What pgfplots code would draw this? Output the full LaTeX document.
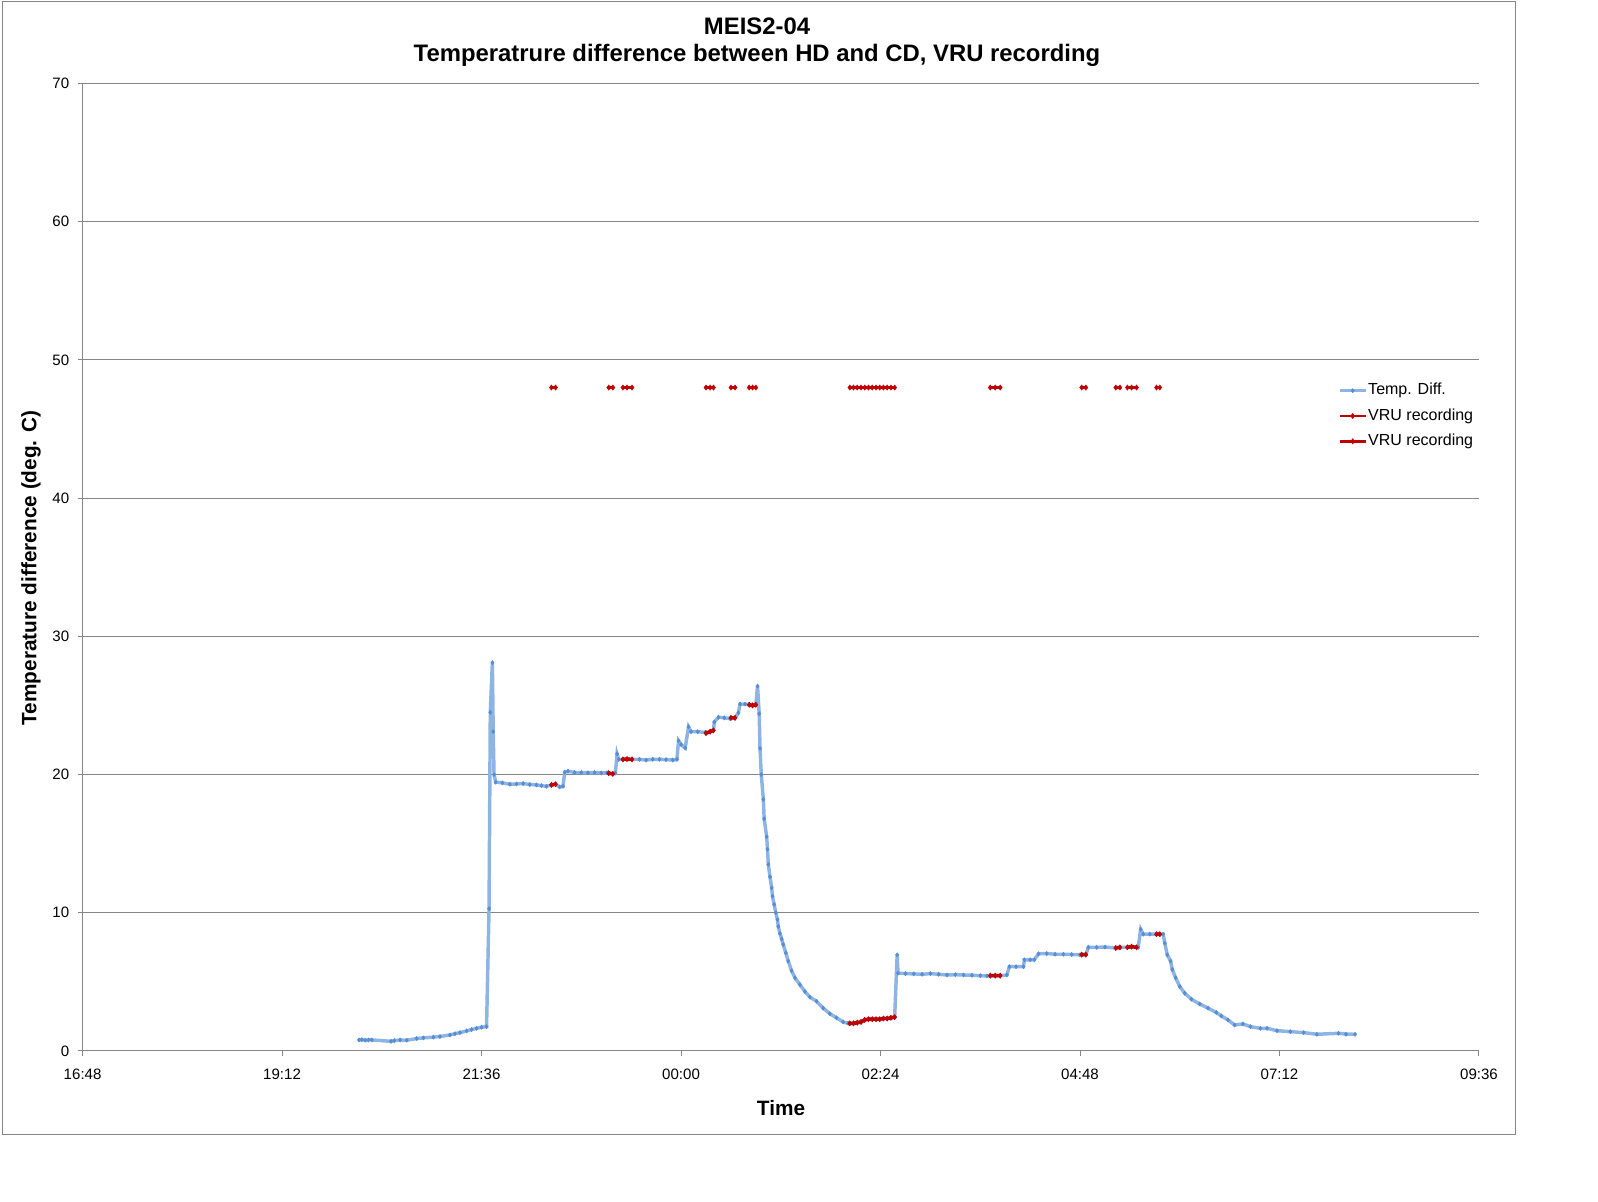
\documentclass[border=0pt]{standalone}
\usepackage{pgfplots}
\pgfplotsset{compat=1.18}
\usepackage{fontspec}
\setmainfont{Liberation Sans}
\definecolor{blueline}{RGB}{142,180,227}
\definecolor{bluemark}{RGB}{85,142,213}
\definecolor{redc}{RGB}{192,0,0}
\definecolor{gridc}{RGB}{134,134,134}
\begin{document}
\begin{tikzpicture}
\path[use as bounding box] (0,0) rectangle (1198.5pt,901.5pt);
\draw[gridc, line width=0.75pt] (1.5pt,50.25pt) rectangle (1136.25pt,900pt);
\begin{axis}[
  at={(61.95pt,113.25pt)}, anchor=south west,
  scale only axis, width=1047.3pt, height=725.65pt,
  xmin=16.8, xmax=33.6, ymin=0, ymax=70,
  xtick={16.8,19.2,21.6,24,26.4,28.8,31.2,33.6},
  xticklabels={16:48,19:12,21:36,00:00,02:24,04:48,07:12,09:36},
  ytick={0,10,20,30,40,50,60,70},
  axis x line*=bottom, axis y line*=left,
  axis line style={draw=gridc, line width=0.75pt},
  tick style={draw=gridc, line width=0.75pt},
  tick align=outside, major tick length=3.75pt,
  ymajorgrids, grid style={draw=gridc, line width=0.75pt},
  /pgf/number format/assume math mode=true,
  ticklabel style={font=\fontsize{11.3}{13}\selectfont},
  xticklabel style={yshift=-6.5pt},
  yticklabel style={xshift=-2.8pt},
  unbounded coords=jump,
  clip=false,
  legend style={at={(0.8992,0.6563)}, anchor=west, draw=none, fill=none,
    inner sep=0pt, row sep=6pt,
    font=\fontsize{12}{14}\selectfont,
    nodes={inner sep=1pt, text height=8.5pt, text depth=2.5pt}},
  legend cell align=left,
  legend image code/.code={\draw[mark repeat=2,mark phase=2,#1,line width=1.8pt] plot coordinates {(0pt,0pt) (9.75pt,0pt) (19.5pt,0pt)};},
]
\addplot[color=blueline, line width=2.6pt, mark=diamond*, mark size=1.6pt,
  mark options={draw=bluemark, fill=bluemark, line width=0.3pt}] coordinates {
(20.125,0.8) (20.16,0.82) (20.20,0.78) (20.24,0.8) (20.28,0.8)
(20.51,0.7) (20.55,0.75) (20.62,0.8) (20.70,0.78) (20.82,0.9) (20.90,0.95)
(21.02,1.0) (21.10,1.05) (21.22,1.16) (21.28,1.25) (21.34,1.33) (21.42,1.45)
(21.48,1.55) (21.54,1.64) (21.60,1.72) (21.66,1.76)
(21.69,10.3) (21.705,24.5) (21.73,28.1) (21.74,23.1) (21.75,20.0) (21.77,19.45)
(21.85,19.4) (21.94,19.3) (22.02,19.32) (22.10,19.35) (22.18,19.28) (22.26,19.25)
(22.32,19.2) (22.38,19.15) (22.44,19.25) (22.49,19.3) (22.54,19.1) (22.58,19.15)
(22.60,20.17) (22.64,20.24) (22.72,20.15) (22.80,20.15) (22.88,20.13) (22.96,20.15)
(23.04,20.12) (23.11,20.13) (23.13,20.1) (23.18,20.05) (23.21,20.1)
(23.23,21.5) (23.25,21.1) (23.30,21.1) (23.35,21.12) (23.41,21.1) (23.50,21.1)
(23.58,21.05) (23.66,21.1) (23.74,21.1) (23.82,21.08) (23.90,21.05) (23.95,21.1)
(23.97,22.44) (24.00,22.17) (24.05,21.93) (24.09,23.45) (24.12,23.1) (24.20,23.1)
(24.29,23.05) (24.30,23.0) (24.35,23.1) (24.39,23.2) (24.40,23.8) (24.45,24.15)
(24.52,24.1) (24.59,24.05) (24.60,24.1) (24.65,24.1) (24.69,24.47) (24.71,25.1)
(24.77,25.1) (24.82,25.05) (24.86,25.0) (24.90,25.05)
(24.92,26.4) (24.94,24.4) (24.95,21.9) (24.965,20.0) (24.99,18.2) (25.00,16.8)
(25.03,15.5) (25.04,14.6) (25.05,13.5) (25.07,12.6) (25.09,11.8) (25.10,11.2)
(25.12,10.6) (25.14,10.0) (25.16,9.5) (25.17,9.0) (25.19,8.5) (25.21,8.1)
(25.23,7.7) (25.26,7.1) (25.29,6.5) (25.33,5.8) (25.37,5.3) (25.43,4.8)
(25.49,4.3) (25.55,3.9) (25.63,3.6) (25.71,3.1) (25.79,2.7) (25.87,2.4)
(25.95,2.1) (26.01,2.0)
(26.03,2.0) (26.075,2.0) (26.12,2.05) (26.165,2.1) (26.21,2.25) (26.255,2.3)
(26.30,2.3) (26.345,2.3) (26.39,2.3) (26.435,2.35) (26.48,2.35) (26.525,2.4) (26.57,2.45)
(26.60,6.96) (26.61,5.63) (26.70,5.6) (26.80,5.58) (26.90,5.55) (27.00,5.6)
(27.10,5.55) (27.20,5.5) (27.30,5.52) (27.40,5.5) (27.50,5.48) (27.60,5.45)
(27.68,5.43) (27.72,5.45) (27.78,5.45) (27.84,5.45) (27.92,5.5)
(27.95,6.1) (28.03,6.1) (28.12,6.1) (28.13,6.6) (28.20,6.6) (28.25,6.6)
(28.30,7.03) (28.40,7.05) (28.50,7.0) (28.60,7.0) (28.70,6.98) (28.80,6.96)
(28.82,6.97) (28.87,6.97) (28.90,7.5) (29.00,7.5) (29.10,7.52) (29.23,7.45)
(29.28,7.5) (29.37,7.5) (29.42,7.55) (29.48,7.5) (29.50,7.5)
(29.53,8.8) (29.56,8.45) (29.64,8.45) (29.72,8.45) (29.76,8.45) (29.80,8.45)
(29.82,7.8) (29.85,6.96) (29.89,6.5) (29.91,5.9) (29.95,5.3) (30.00,4.66)
(30.06,4.18) (30.14,3.75) (30.24,3.4) (30.34,3.1) (30.44,2.78) (30.50,2.54)
(30.58,2.25) (30.66,1.88) (30.76,1.96) (30.85,1.76) (30.97,1.64) (31.05,1.64)
(31.17,1.47) (31.33,1.4) (31.49,1.33) (31.65,1.21) (31.91,1.28) (32.00,1.22) (32.11,1.21)
};
\addlegendentry{Temp. Diff.}
\addplot[color=redc, line width=2.6pt, mark=diamond*, mark size=2pt,
  mark options={draw=redc, fill=redc, line width=0.3pt}] coordinates {
(22.44,19.25) (22.49,19.3) (22.47,nan)
(23.13,20.1) (23.18,20.05) (23.2,nan)
(23.30,21.1) (23.35,21.12) (23.41,21.1) (23.45,nan)
(24.30,23.0) (24.35,23.1) (24.39,23.2) (24.42,nan)
(24.60,24.1) (24.65,24.1) (24.7,nan)
(24.82,25.05) (24.86,25.0) (24.90,25.05) (24.91,nan)
(26.03,2.0) (26.075,2.0) (26.12,2.05) (26.165,2.1) (26.21,2.25) (26.255,2.3)
(26.30,2.3) (26.345,2.3) (26.39,2.3) (26.435,2.35) (26.48,2.35) (26.525,2.4) (26.57,2.45) (26.59,nan)
(27.72,5.45) (27.78,5.45) (27.84,5.45) (27.9,nan)
(28.82,6.97) (28.87,6.97) (28.88,nan)
(29.23,7.45) (29.28,7.5) (29.3,nan)
(29.37,7.5) (29.42,7.55) (29.48,7.5) (29.5,nan)
(29.72,8.45) (29.76,8.45)
};
\addlegendentry{VRU recording}
\addplot[color=redc, line width=2.2pt, mark=diamond*, mark size=2pt,
  mark options={draw=redc, fill=redc, line width=0.3pt}] coordinates {
(22.44,48) (22.49,48) (22.47,nan)
(23.13,48) (23.18,48) (23.2,nan)
(23.30,48) (23.35,48) (23.41,48) (23.45,nan)
(24.30,48) (24.35,48) (24.39,48) (24.42,nan)
(24.60,48) (24.65,48) (24.7,nan)
(24.82,48) (24.86,48) (24.90,48) (24.91,nan)
(26.03,48) (26.075,48) (26.12,48) (26.165,48) (26.21,48) (26.255,48)
(26.30,48) (26.345,48) (26.39,48) (26.435,48) (26.48,48) (26.525,48) (26.57,48) (26.59,nan)
(27.72,48) (27.78,48) (27.84,48) (27.9,nan)
(28.82,48) (28.87,48) (28.88,nan)
(29.23,48) (29.28,48) (29.3,nan)
(29.37,48) (29.42,48) (29.48,48) (29.5,nan)
(29.72,48) (29.76,48)
};
\addlegendentry{VRU recording}
\end{axis}
\node[font=\fontsize{17.9}{21}\selectfont\bfseries] at (567.75pt,881.6pt) {MEIS2-04};
\node[font=\fontsize{17.9}{21}\selectfont\bfseries] at (567.75pt,860.2pt) {Temperatrure difference between HD and CD, VRU recording};
\node[font=\fontsize{15.6}{18}\selectfont\bfseries, rotate=90] at (23.25pt,475.5pt) {Temperature difference (deg. C)};
\node[font=\fontsize{15.6}{18}\selectfont\bfseries] at (585.75pt,70.5pt) {Time};
\end{tikzpicture}
\end{document}
